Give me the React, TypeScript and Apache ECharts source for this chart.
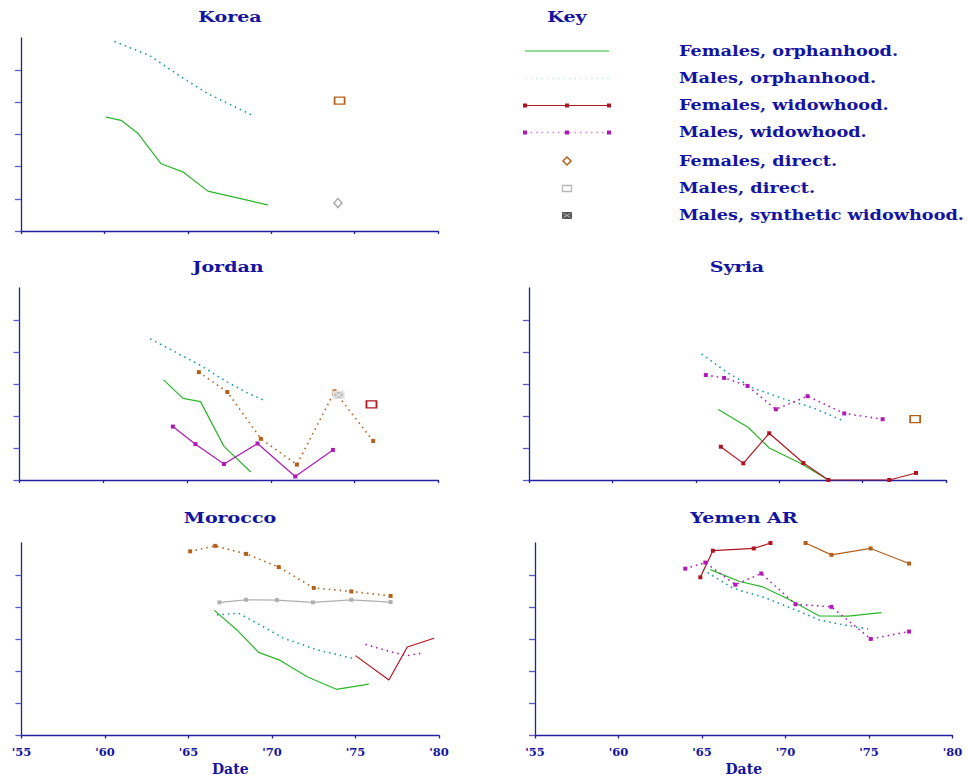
import React, { useEffect, useRef } from "react";
import * as echarts from "echarts";

const yearTicks = [55, 60, 65, 70, 75, 80];
const yTickValues = [0, 1, 2, 3, 4, 5];
const panelTitles = ["Korea", "Jordan", "Syria", "Morocco", "Yemen AR"];
const keyTitle = "Key";
const xAxisName = "Date";
const keyLabels = [
  "Females, orphanhood.",
  "Males, orphanhood.",
  "Females, widowhood.",
  "Males, widowhood.",
  "Females, direct.",
  "Males, direct.",
  "Males, synthetic widowhood.",
];

// Korea
const koreaFemOrph = [[60.1, 3.54], [61.0, 3.44], [62.0, 3.04], [63.4, 2.09], [64.7, 1.84], [66.2, 1.24], [67.7, 1.06], [69.8, 0.81]];
const koreaMaleOrph = [[60.6, 5.89], [62.7, 5.46], [64.6, 4.79], [66.2, 4.27], [68.9, 3.59]];
const koreaSquare = [[74.1, 4.05]];
const koreaDiamond = [[74.0, 0.87]];

// Jordan
const jordanFemOrph = [[63.6, 3.13], [64.75, 2.55], [65.8, 2.45], [67.2, 1.05], [68.8, 0.25]];
const jordanMaleOrph = [[62.8, 4.41], [64.4, 3.97], [65.8, 3.58], [67.4, 3.06], [68.6, 2.72], [69.6, 2.49]];
const jordanBrownDot = [[65.7, 3.37], [67.4, 2.75], [69.4, 1.29], [71.55, 0.48], [73.8, 2.77], [76.1, 1.22]];
const jordanMagenta = [[64.15, 1.67], [65.5, 1.12], [67.2, 0.5], [69.2, 1.14], [71.45, 0.11], [73.7, 0.94]];
const jordanSynthetic = [[74.05, 2.66]];
const jordanSquare = [[76.0, 2.36]];

// Syria
const syriaMaleOrph = [[65.35, 3.94], [66.85, 3.37], [68.45, 2.87], [70.25, 2.54], [72.05, 2.25], [73.75, 1.87]];
const syriaMaleWid = [[65.6, 3.28], [66.7, 3.19], [68.1, 2.94], [69.8, 2.21], [71.7, 2.62], [73.9, 2.08], [76.2, 1.9]];
const syriaFemOrph = [[66.35, 2.2], [68.15, 1.64], [69.4, 1.0], [71.25, 0.53], [72.95, 0.0]];
const syriaFemWid = [[66.5, 1.04], [67.85, 0.52], [69.4, 1.46], [71.45, 0.53], [72.95, 0.0], [76.6, 0.0], [78.2, 0.22]];
const syriaSquare = [[78.15, 1.9]];

// Morocco
const moroccoBrownDot = [[65.1, 5.74], [66.6, 5.91], [68.45, 5.66], [70.4, 5.25], [72.5, 4.6], [74.75, 4.49], [77.1, 4.35]];
const moroccoGrey = [[66.85, 4.15], [68.45, 4.23], [70.3, 4.22], [72.45, 4.15], [74.75, 4.23], [77.1, 4.16]];
const moroccoFemOrph = [[66.55, 3.9], [67.9, 3.29], [69.2, 2.59], [70.5, 2.34], [72.1, 1.83], [73.85, 1.44], [75.8, 1.6]];
const moroccoMaleOrph = [[66.7, 3.76], [68.0, 3.81], [69.1, 3.5], [70.7, 3.03], [72.7, 2.67], [75.0, 2.38]];
const moroccoRed = [[75.0, 2.49], [77.0, 1.73], [78.1, 2.76], [79.7, 3.03]];
const moroccoMagenta = [[75.6, 2.84], [77.1, 2.61], [78.1, 2.49], [79.0, 2.57]];

// Yemen AR
const yemenRed = [[64.9, 4.93], [65.65, 5.76], [68.1, 5.83], [69.1, 6.0]];
const yemenBrown = [[71.2, 6.0], [72.75, 5.63], [75.1, 5.83], [77.4, 5.36]];
const yemenMagenta = [[64.0, 5.2], [65.2, 5.39], [67.0, 4.7], [68.55, 5.05], [70.6, 4.09], [72.75, 4.01], [75.1, 3.01], [77.4, 3.24]];
const yemenFemOrph = [[65.5, 5.17], [67.25, 4.8], [68.65, 4.63], [70.25, 4.23], [72.0, 3.73], [73.75, 3.72], [75.75, 3.83]];
const yemenMaleOrph = [[65.05, 5.17], [66.85, 4.59], [68.85, 4.28], [70.85, 3.86], [72.05, 3.6], [73.25, 3.47], [74.95, 3.32]];

const C = {
  green: "#2cb52c",
  teal: "#159c9c",
  brown: "#b3601c",
  magenta: "#b01ab4",
  red: "#b01420",
  grey: "#b0b0b0",
  axis: "#2020a0",
  text: "#1414a0",
  lightTeal: "#c4ecec",
  lightMag: "#e080e8",
};
const DOT: number[] = [1.5, 4];
const FONT = "DejaVu Serif";

function line(grid: number, data: number[][], color: string, opts: { dotted?: boolean; marks?: boolean } = {}) {
  return {
    type: "line",
    xAxisIndex: grid,
    yAxisIndex: grid,
    data,
    silent: true,
    symbol: opts.marks ? "rect" : "none",
    symbolSize: 4,
    showSymbol: !!opts.marks,
    itemStyle: { color },
    lineStyle: { color, width: opts.dotted ? 1.6 : 1.2, type: opts.dotted ? DOT : "solid" },
    z: 3,
  };
}

function point(grid: number, data: number[][], symbol: string, size: number[] | number, fill: string, stroke: string, z = 4) {
  return {
    type: "scatter",
    xAxisIndex: grid,
    yAxisIndex: grid,
    data,
    silent: true,
    symbol,
    symbolSize: size,
    itemStyle: { color: fill, borderColor: stroke, borderWidth: 1.5, opacity: 1 },
    z,
  };
}

const grids = [
  { left: 21, top: 38, width: 417, height: 193 },
  { left: 19.5, top: 288, width: 419, height: 192 },
  { left: 529, top: 288, width: 417, height: 192 },
  { left: 21.5, top: 543, width: 417.5, height: 192.5 },
  { left: 535, top: 543, width: 417.5, height: 192.5 },
];
const bottomPanels = [3, 4];

export default function App() {
  const ref = useRef<HTMLDivElement>(null);
  useEffect(() => {
    if (!ref.current) return;
    const chart = echarts.init(ref.current, undefined, { renderer: "svg" });

    const xAxes = grids.map((_, i) => {
      const bottom = bottomPanels.includes(i);
      return {
        type: "value",
        gridIndex: i,
        min: yearTicks[0],
        max: yearTicks[yearTicks.length - 1],
        interval: 5,
        axisLine: { show: true, lineStyle: { color: C.axis, width: 1.3 } },
        axisTick: { show: true, length: 3, lineStyle: { color: C.axis, width: 1.3 } },
        splitLine: { show: false },
        axisLabel: {
          show: bottom,
          margin: 10,
          color: C.text,
          fontFamily: FONT,
          fontWeight: "bold",
          fontSize: 11.5,
          formatter: (v: number) => "'" + v,
        },
        name: bottom ? xAxisName : "",
        nameLocation: "middle",
        nameGap: 26,
        nameTextStyle: { color: C.text, fontFamily: FONT, fontWeight: "bold", fontSize: 14 },
      };
    });
    const yAxes = grids.map((_, i) => ({
      type: "value",
      gridIndex: i,
      min: 0,
      max: 6,
      interval: 1,
      axisLine: { show: true, lineStyle: { color: C.axis, width: 1.3 } },
      axisTick: { show: true, length: 6, customValues: yTickValues, lineStyle: { color: "#5a5ac8", width: 1.3 } },
      axisLabel: { show: false },
      splitLine: { show: false },
    }));

    const synthPath = "path://M0,0L10,0L10,7L0,7ZM0,0L10,7M10,0L0,7";

    const series: any[] = [
      // Korea
      line(0, koreaMaleOrph, C.teal, { dotted: true }),
      line(0, koreaFemOrph, C.green),
      point(0, koreaSquare, "rect", [10, 7], "#ffffff", C.brown),
      point(0, koreaDiamond, "diamond", [8, 9], "#ffffff", "#a8a8a8"),
      // Jordan
      line(1, jordanMaleOrph, C.teal, { dotted: true }),
      line(1, jordanFemOrph, C.green),
      line(1, jordanBrownDot, C.brown, { dotted: true, marks: true }),
      line(1, jordanMagenta, C.magenta, { marks: true }),
      point(1, jordanSynthetic, synthPath, [10, 7], "#b8b8b8", "#e4e4e4", 6),
      point(1, jordanSquare, "rect", [10, 7], "#ffffff", C.red),
      // Syria
      line(2, syriaMaleOrph, C.teal, { dotted: true }),
      line(2, syriaMaleWid, C.magenta, { dotted: true, marks: true }),
      line(2, syriaFemOrph, C.green),
      line(2, syriaFemWid, C.red, { marks: true }),
      point(2, syriaSquare, "rect", [10, 7], "#ffffff", C.brown),
      // Morocco
      line(3, moroccoBrownDot, C.brown, { dotted: true, marks: true }),
      line(3, moroccoGrey, C.grey, { marks: true }),
      line(3, moroccoMaleOrph, C.teal, { dotted: true }),
      line(3, moroccoFemOrph, C.green),
      line(3, moroccoRed, C.red),
      line(3, moroccoMagenta, C.magenta, { dotted: true }),
      // Yemen
      line(4, yemenMaleOrph, C.teal, { dotted: true }),
      line(4, yemenFemOrph, C.green),
      line(4, yemenMagenta, C.magenta, { dotted: true, marks: true }),
      line(4, yemenRed, C.red, { marks: true }),
      line(4, yemenBrown, C.brown, { marks: true }),
    ];

    const titlePos = [
      [230, 17],
      [228, 267],
      [737, 267],
      [230, 518],
      [744, 518],
    ];
    const titleText = (text: string, x: number, y: number) => ({
      type: "text",
      x,
      y,
      scaleX: 1.27,
      silent: true,
      style: {
        text,
        fill: C.text,
        font: `bold 15px "${FONT}"`,
        align: "center",
        verticalAlign: "middle",
      },
    });

    const rowY = [51, 78.5, 105.5, 132.5, 161, 188.5, 215.5];
    const graphics: any[] = [];
    panelTitles.forEach((t, i) => graphics.push(titleText(t, titlePos[i][0], titlePos[i][1])));
    graphics.push(titleText(keyTitle, 567, 17));
    keyLabels.forEach((t, i) =>
      graphics.push({
        type: "text",
        x: 679,
        y: rowY[i],
        scaleX: 1.265,
        silent: true,
        style: { text: t, fill: C.text, font: `bold 14px "${FONT}"`, align: "left", verticalAlign: "middle" },
      })
    );
    const lx1 = 525, lx2 = 609, lxm = 567;
    graphics.push({ type: "line", shape: { x1: lx1, y1: rowY[0], x2: lx2, y2: rowY[0] }, style: { stroke: C.green, lineWidth: 1.2 } });
    graphics.push({ type: "line", shape: { x1: lx1, y1: rowY[1], x2: lx2, y2: rowY[1] }, style: { stroke: C.lightTeal, lineWidth: 1.5, lineDash: DOT } });
    graphics.push({ type: "line", shape: { x1: lx1, y1: rowY[2], x2: lx2, y2: rowY[2] }, style: { stroke: C.red, lineWidth: 1.2 } });
    graphics.push({ type: "line", shape: { x1: lx1, y1: rowY[3], x2: lx2, y2: rowY[3] }, style: { stroke: C.lightMag, lineWidth: 1.5, lineDash: DOT } });
    [lx1, lxm, lx2].forEach((x) => {
      graphics.push({ type: "rect", shape: { x: x - 2, y: rowY[2] - 2, width: 4, height: 4 }, style: { fill: C.red } });
      graphics.push({ type: "rect", shape: { x: x - 2, y: rowY[3] - 2, width: 4, height: 4 }, style: { fill: C.magenta } });
    });
    graphics.push({
      type: "polygon",
      shape: { points: [[lxm, rowY[4] - 4], [lxm + 4, rowY[4]], [lxm, rowY[4] + 4], [lxm - 4, rowY[4]]] },
      style: { fill: "#ffffff", stroke: C.brown, lineWidth: 1.5 },
    });
    graphics.push({ type: "rect", shape: { x: lxm - 4.5, y: rowY[5] - 3, width: 9, height: 6 }, style: { fill: "#ffffff", stroke: "#b8b8b8", lineWidth: 1.3 } });
    graphics.push({ type: "rect", shape: { x: lxm - 4.5, y: rowY[6] - 3, width: 9, height: 6 }, style: { fill: "#555555", stroke: "#555555", lineWidth: 1 } });
    graphics.push({ type: "line", shape: { x1: lxm - 3.5, y1: rowY[6] - 2, x2: lxm + 3.5, y2: rowY[6] + 2 }, style: { stroke: "#cccccc", lineWidth: 0.8 } });
    graphics.push({ type: "line", shape: { x1: lxm + 3.5, y1: rowY[6] - 2, x2: lxm - 3.5, y2: rowY[6] + 2 }, style: { stroke: "#cccccc", lineWidth: 0.8 } });

    chart.setOption({
      animation: false,
      backgroundColor: "#ffffff",
      grid: grids.map((g) => ({ ...g, containLabel: false })),
      xAxis: xAxes,
      yAxis: yAxes,
      series,
      graphic: graphics,
    });
    return () => chart.dispose();
  }, []);
  return <div ref={ref} style={{ position: "fixed", left: 0, top: 0, width: 968, height: 780, background: "#fff" }} />;
}
